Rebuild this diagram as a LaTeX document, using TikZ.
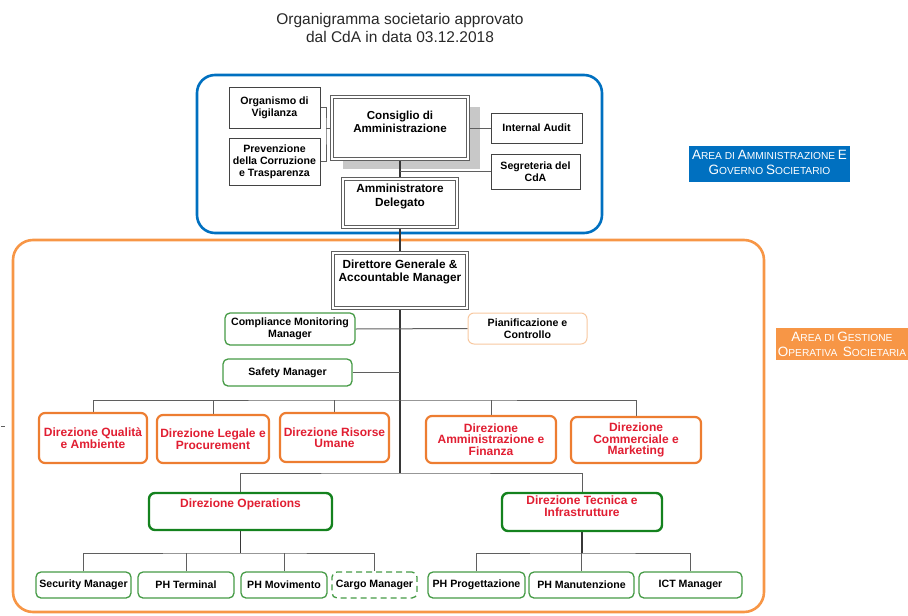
\documentclass[tikz,border=0pt]{standalone}
\usepackage{fontspec}
\setmainfont{Liberation Sans}
\usetikzlibrary{calc,backgrounds}

\definecolor{bluea}{RGB}{0,112,192}
\definecolor{orangea}{RGB}{247,150,70}
\definecolor{orangeb}{RGB}{237,125,49}
\definecolor{orangec}{RGB}{248,200,160}
\definecolor{greena}{RGB}{20,130,30}
\definecolor{greenb}{RGB}{70,155,70}
\definecolor{reda}{RGB}{225,30,50}
\definecolor{linec}{RGB}{95,95,95}
\definecolor{trunkc}{RGB}{55,55,55}
\definecolor{shadowc}{RGB}{200,200,200}
\definecolor{titlec}{RGB}{40,40,40}

\newcommand{\placebox}[7]{%
  \node[#2, minimum width={(#5-#3)*1pt}, minimum height={(#6-#4)*1pt}]
    (#1) at ({(#3+#5)/2},{(#4+#6)/2}) {#7};}
\newcommand{\placeboxtop}[8]{%
  \node[#2, minimum width={(#5-#3)*1pt}, minimum height={(#6-#4)*1pt}]
    (#1) at ({(#3+#5)/2},{(#4+#6)/2})
    {\parbox[c][\dimexpr #6pt-#4pt-4pt\relax][t]{\dimexpr #5pt-#3pt-4pt\relax}{\centering\vspace*{#7pt}#8\par}};}
\newcommand{\SC}[2]{{\fontsize{13.5}{13.5}\selectfont #1}{\fontsize{10.2}{10.2}\selectfont #2}}

\tikzset{
  box/.style={inner sep=0pt, align=center, font=\bfseries\fontsize{10.6}{12}\selectfont, fill=white},
  plainbox/.style={box, draw=linec!70!black, line width=0.9pt},
  dblbox/.style={box, draw=linec, double=white, double distance=1.8pt, line width=1pt},
  greenbox/.style={box, draw=greenb, line width=1.3pt, rounded corners=5pt},
  dashbox/.style={greenbox, dashed, dash pattern=on 6pt off 4pt},
  planbox/.style={box, draw=orangec, line width=1pt, rounded corners=6pt},
  dirbox/.style={box, draw=orangeb, line width=2.2pt, rounded corners=6pt, text=reda,
    font=\bfseries\fontsize{12}{11.5}\selectfont},
  opbox/.style={box, draw=greena, line width=2.4pt, rounded corners=6pt, text=reda,
    font=\bfseries\fontsize{12}{11.5}\selectfont},
  arealabel/.style={text=white, align=center, inner sep=0pt, font=\fontsize{10}{15}\selectfont},
  conn/.style={draw=linec, line width=1pt},
  trunk/.style={draw=trunkc, line width=1.4pt},
}

\begin{document}
\begin{tikzpicture}[x=1pt, y=-1pt]
\useasboundingbox (0,0) rectangle (908,616);

% title
\node[align=center, text=titlec, font=\fontsize{15.5}{18}\selectfont] (title) at (400,28)
  {Organigramma societario approvato\\dal CdA in data 03.12.2018};

\begin{pgfonlayer}{background}
% area frames
\draw[bluea, line width=2.6pt, rounded corners=18pt] (197,75) rectangle (602,233);
\draw[orangea, line width=2.6pt, rounded corners=20pt] (13,240) rectangle (764,612);
% shadow
\fill[shadowc] (343,107) rectangle (480,169);
\end{pgfonlayer}

% area labels
\fill[bluea] (689,146) rectangle (850,182);
\node[arealabel] (lblgov) at (769.5,162)
  {\SC{A}{REA DI} \SC{A}{MMINISTRAZIONE} \SC{E}{}\\\SC{G}{OVERNO} \SC{S}{OCIETARIO}};
\fill[orangea] (776,328) rectangle (910,360);
\begin{scope}
\clip (776,328) rectangle (910,360);
\node[arealabel] (lblgest) at (842,344)
  {\SC{A}{REA DI} \SC{G}{ESTIONE}\\\SC{O}{PERATIVA}\ \ \SC{S}{OCIETARIA}};
\end{scope}

% stray mark
\draw[linec, line width=0.6pt] (1,426) -- (5,426);

% boxes
\placebox{ov}{plainbox}{229}{87}{320}{128}{Organismo di\\Vigilanza}
\placebox{pc}{plainbox}{229}{138}{320}{185}{Prevenzione\\della Corruzione\\e Trasparenza}
\placeboxtop{cda}{dblbox, font=\bfseries\fontsize{11.6}{13.5}\selectfont}{332}{97}{468}{159}{12}{Consiglio di\\Amministrazione}
\placebox{ia}{plainbox}{491}{113}{582}{143}{Internal Audit}
\placebox{sg}{plainbox}{491}{154}{580}{189}{Segreteria del\\CdA}
\placeboxtop{ad}{dblbox, font=\bfseries\fontsize{11.8}{14}\selectfont}{343}{179}{457}{227}{3}{Amministratore\\Delegato}
\placeboxtop{dg}{dblbox, font=\bfseries\fontsize{11.8}{12.5}\selectfont}{333}{253}{467}{308}{5}{Direttore Generale \&\\Accountable Manager}
\placebox{cmm}{greenbox}{225}{313}{355}{345}{Compliance Monitoring\\Manager}
\placebox{sm}{greenbox}{223}{359}{352}{386}{Safety Manager}
\placebox{pic}{planbox}{468}{313}{587}{344}{Pianificazione e\\Controllo}

\placebox{d1}{dirbox}{39}{413}{147}{463}{Direzione Qualità\\e Ambiente}
\placebox{d2}{dirbox}{157}{415}{269}{463}{Direzione Legale e\\Procurement}
\placebox{d3}{dirbox}{280}{413}{389}{462}{Direzione Risorse\\Umane}
\placebox{d4}{dirbox}{426}{416}{556}{463}{Direzione\\Amministrazione e\\Finanza}
\placebox{d5}{dirbox}{571}{417}{701}{463}{Direzione\\Commerciale e\\Marketing}

\placeboxtop{op}{opbox}{149}{493}{332}{530}{4}{Direzione Operations}
\placeboxtop{tec}{opbox}{502}{493}{662}{531}{1}{Direzione Tecnica e\\Infrastrutture}

\placebox{c1}{greenbox}{36}{572}{131}{598}{Security Manager}
\placebox{c2}{greenbox}{138}{572}{234}{598}{PH Terminal}
\placebox{c3}{greenbox}{241}{572}{327}{598}{PH Movimento}
\placebox{c4}{dashbox}{332}{572}{417}{598}{Cargo Manager}
\placebox{c5}{greenbox}{428}{572}{525}{598}{PH Progettazione}
\placebox{c6}{greenbox}{529}{572}{634}{598}{PH Manutenzione}
\placebox{c7}{greenbox}{639}{572}{742}{598}{ICT Manager}

% connectors (behind boxes)
\begin{pgfonlayer}{background}
\coordinate (brk) at (326,128);
\coordinate (bus) at (400,400);
\coordinate (t1) at (400,473);
\coordinate (ob) at (240.5,553);
\coordinate (tb) at (582,553);

\draw[conn] (ov.east) -| (brk) |- (pc.east);
\draw[conn] (brk) -- (cda.west);
\draw[conn] (cda.east) -- (ia.west);
\draw[trunk] (cda.south) -- (ad.north);
\draw[conn] (sg.west) -- (sg.west -| cda.south);
\draw[trunk] (ad.south) -- (dg.north);
\draw[trunk] (dg.south) -- (t1);
\draw[conn] (cmm.east) -- (pic.west);
\draw[conn] (sm.east) -- (sm.east -| dg.south);

\draw[conn] (d1.north) |- (bus) -| (d5.north);
\draw[conn] (d2.north) -- (d2.north |- bus);
\draw[conn] (d3.north) -- (d3.north |- bus);
\draw[conn] (d4.north) -- (d4.north |- bus);

\draw[conn] (op.north) |- (t1) -| (tec.north);

\draw[trunk] (op.south) -- (ob);
\draw[conn] (c1.north) |- (ob) -| (c4.north);
\draw[conn] (c2.north) -- (c2.north |- ob);
\draw[conn] (c3.north) -- (c3.north |- ob);

\draw[trunk] (tec.south) -- (tb);
\draw[conn] (c5.north) |- (tb) -| (c7.north);
\draw[conn] (c6.north) -- (c6.north |- tb);
\end{pgfonlayer}
\end{tikzpicture}
\end{document}
